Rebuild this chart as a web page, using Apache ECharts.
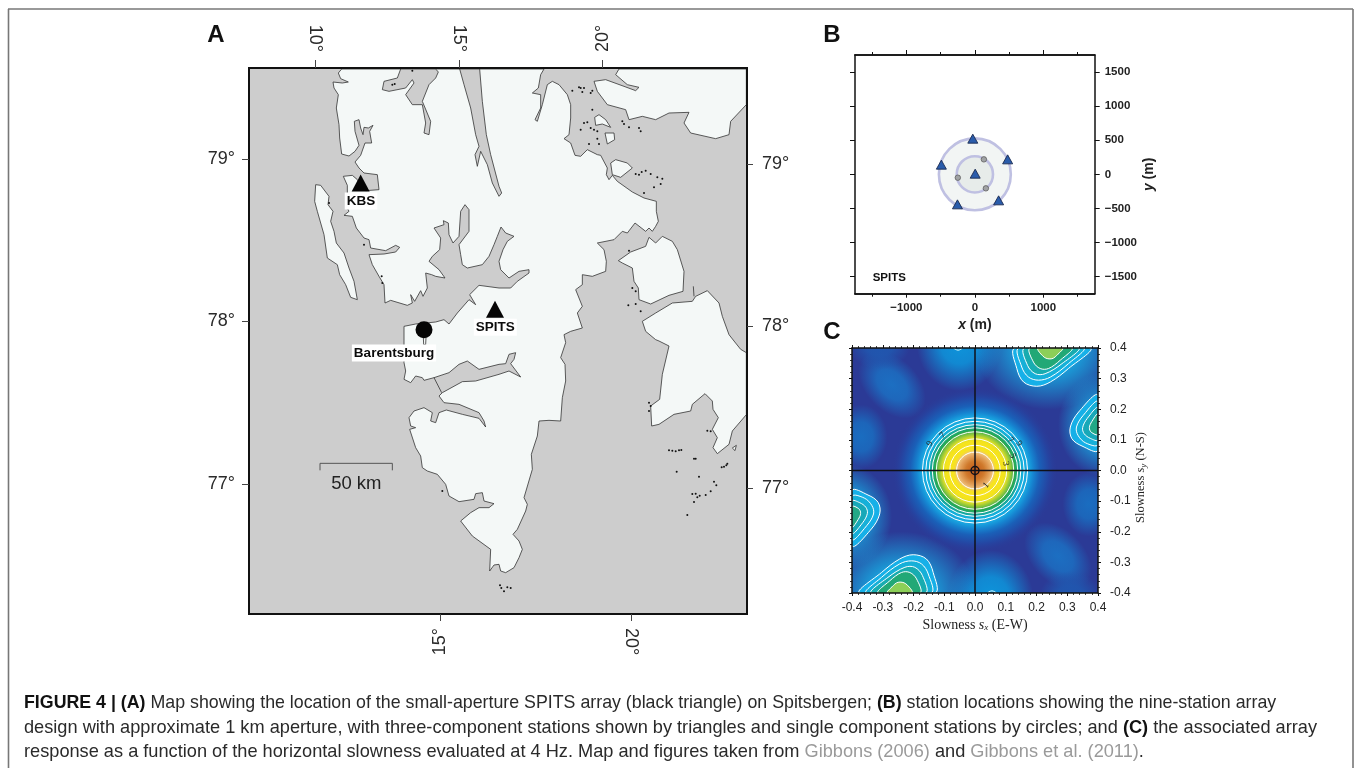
<!DOCTYPE html>
<html><head><meta charset="utf-8"><style>html,body{margin:0;padding:0;background:#fff}#c{width:1354px;height:768px}</style>
<script src="https://cdn.jsdelivr.net/npm/echarts@6/dist/echarts.min.js"></script></head>
<body><div id="c"></div><script>
// ---------- Panel A: map outlines, traced in map units (x 0-1494, y 0-1638 from top-left) ----------
const mainland=[[278,3],[268,15],[275,32],[298,42],[280,45],[252,42],[255,60],[268,80],[262,120],[270,170],[272,210],[278,258],[300,264],[318,250],[330,232],[318,190],[316,160],[330,155],[335,180],[342,200],[345,178],[358,180],[372,172],[362,190],[368,225],[348,225],[335,262],[318,282],[330,300],[345,315],[385,320],[390,365],[350,368],[325,335],[310,322],[283,325],[295,352],[295,420],[300,430],[285,442],[310,445],[322,480],[345,510],[360,515],[365,540],[410,548],[440,532],[452,538],[440,552],[405,558],[360,560],[370,590],[390,625],[405,650],[408,705],[425,697],[475,712],[490,705],[485,680],[497,700],[515,668],[522,685],[535,660],[530,615],[548,620],[560,625],[588,630],[570,605],[540,580],[550,565],[572,545],[575,510],[555,480],[585,470],[583,458],[598,465],[600,500],[612,525],[630,505],[635,430],[648,410],[660,425],[660,490],[630,530],[635,560],[640,590],[655,600],[700,590],[720,565],[735,530],[745,505],[756,477],[770,495],[795,505],[775,520],[762,545],[750,580],[755,605],[780,630],[810,610],[840,605],[840,615],[805,640],[785,660],[750,660],[690,652],[662,680],[680,710],[660,695],[625,735],[600,768],[585,755],[560,762],[500,768],[465,775],[465,884],[470,909],[465,934],[485,944],[500,924],[520,929],[525,937],[555,929],[600,914],[630,889],[655,879],[690,904],[750,889],[770,887],[780,859],[800,854],[795,874],[785,887],[815,927],[780,909],[750,919],[680,939],[640,941],[580,974],[570,984],[585,1004],[630,1009],[690,1034],[705,1059],[710,1077],[690,1051],[640,1039],[592,1026],[570,1034],[560,1064],[545,1059],[550,1034],[525,1019],[495,1029],[480,1049],[485,1074],[500,1079],[482,1084],[500,1139],[515,1164],[520,1199],[535,1209],[565,1219],[590,1249],[600,1284],[630,1301],[675,1294],[680,1277],[700,1274],[705,1299],[735,1307],[720,1319],[690,1319],[665,1334],[635,1359],[670,1404],[725,1444],[722,1509],[735,1491],[750,1489],[755,1509],[770,1514],[795,1499],[810,1469],[820,1444],[810,1419],[792,1399],[805,1384],[830,1329],[835,1309],[825,1289],[850,1204],[847,1159],[865,1104],[870,1059],[900,1057],[935,1059],[940,989],[950,939],[948,889],[935,869],[950,824],[945,800],[965,790],[1000,780],[985,735],[1000,715],[980,665],[1000,650],[1000,620],[1030,625],[1070,610],[1072,580],[1065,545],[1045,525],[1095,515],[1120,490],[1135,495],[1158,465],[1190,490],[1200,480],[1210,490],[1220,475],[1228,460],[1222,430],[1222,400],[1185,390],[1150,372],[1105,340],[1090,322],[1080,335],[1072,320],[1075,300],[1055,262],[1045,260],[1015,245],[995,265],[978,262],[965,225],[945,212],[960,200],[965,150],[965,110],[955,80],[930,50],[910,40],[895,50],[880,110],[865,160],[858,155],[875,120],[875,80],[850,75],[868,60],[875,20],[885,3]];
const northLand=[[1110,3],[1100,20],[1135,50],[1170,58],[1160,68],[1125,55],[1070,35],[1035,40],[1045,70],[1075,110],[1130,125],[1140,155],[1180,145],[1220,155],[1260,135],[1320,133],[1305,165],[1325,195],[1400,212],[1440,200],[1445,160],[1492,110],[1492,3]];
const barentsoya=[[1108,578],[1145,552],[1190,535],[1200,508],[1220,525],[1240,505],[1270,520],[1285,545],[1305,610],[1302,670],[1260,682],[1205,708],[1170,695],[1168,660],[1155,640],[1150,600],[1120,585]];
const edgeoya=[[1180,760],[1220,735],[1270,705],[1330,700],[1340,685],[1375,668],[1410,705],[1420,745],[1440,800],[1455,819],[1475,844],[1492,854],[1492,1040],[1450,1089],[1440,1129],[1405,1157],[1392,1139],[1405,1109],[1390,1084],[1408,1049],[1392,1024],[1390,999],[1368,977],[1330,1009],[1325,1029],[1275,1039],[1230,1069],[1208,1074],[1205,1014],[1232,994],[1240,919],[1260,834],[1230,819],[1220,815],[1190,790]];
const forland=[[200,350],[215,352],[240,385],[237,410],[252,430],[245,460],[255,490],[262,525],[285,555],[300,600],[315,640],[325,695],[305,688],[290,650],[272,620],[265,590],[235,570],[225,500],[205,430],[197,400]];
const smallIslands=[[[1037,148],[1050,140],[1070,155],[1085,178],[1060,168],[1040,172]],[[1085,285],[1100,275],[1135,285],[1150,300],[1115,328],[1090,320]],[[1068,195],[1095,195],[1097,215],[1075,228]],[[1450,1140],[1462,1132],[1458,1148]]];
const fjordWest=[[455,3],[445,30],[405,40],[400,65],[420,70],[470,60],[490,35],[495,45],[470,80],[490,110],[520,110],[530,165],[525,195],[540,200],[545,160],[520,100],[540,50],[560,30],[568,12],[560,3]];
const fjordEast=[[632,3],[645,50],[665,120],[680,200],[690,235],[678,260],[685,295],[695,250],[715,290],[730,345],[750,385],[758,375],[750,355],[725,260],[712,200],[700,100],[692,3]];
const coastStrokes=[[[1333,655],[1335,685]],[[523,808],[524,830],[530,830],[531,808]],[[555,929],[578,974]]];
const specks=[[430,50],[437,48],[490,8],[240,405],[345,530],[398,625],[400,645],[580,1269],[1000,72],[995,60],[990,58],[1005,60],[1025,75],[1030,68],[970,68],[1030,125],[1005,165],[1015,163],[1025,180],[1035,185],[1045,190],[995,185],[1020,228],[1050,228],[1045,212],[1120,160],[1125,168],[1140,178],[1170,180],[1175,190],[1160,318],[1170,320],[1178,312],[1190,308],[1205,318],[1225,328],[1240,332],[1235,348],[1215,358],[1185,375],[1140,548],[1150,660],[1160,670],[1138,712],[1160,708],[1175,730],[1200,1004],[1205,1014],[1200,1029],[1260,1147],[1270,1148],[1280,1150],[1290,1147],[1297,1146],[1335,1172],[1340,1172],[1283,1211],[1350,1226],[1418,1198],[1425,1196],[1432,1192],[1435,1187],[1395,1241],[1402,1252],[1330,1278],[1340,1277],[1345,1288],[1335,1302],[1352,1283],[1370,1281],[1385,1270],[1315,1341],[1375,1088],[1385,1090],[753,1552],[757,1560],[765,1570],[775,1558],[785,1560]];
const stationPoints=[[335,345],[738,724]];
const townPoints=[[525,785]];
const mapLabels=[{name:'KBS',value:[336,399]},{name:'SPITS',value:[739,778]},{name:'Barentsburg',value:[435,855]}];
const scaleBar=[[213,1207],[213,1186],[430,1186],[430,1207]];
const scaleLabel=[{name:'50 km',value:[322,1249]}];
const lonTop=[10,15,20], lonBottom=[15,20], latTicks=[77,78,79];
// ---------- Panel B: station layout (metres) ----------
const ringRadii=[525,265];
const threeComp=[[-30,523],[479,220],[-489,142],[-254,-440],[347,-381],[5,10]];
const oneComp=[[132,220],[-249,-49],[161,-205]];
const bTicks=[-1500,-1000,-500,0,500,1000,1500];
const bMajor=[-1000,0,1000];
// ---------- Panel C: array response (slowness s/km) ----------
const peakProfile=[[0,'#bd5518'],[.03,'#d07a2c'],[.048,'#e3a25c'],[.058,'#eec07a'],[.07,'#f7e41e'],[.095,'#f5e31c'],[.107,'#d6dc2a'],[.12,'#7cc040'],[.13,'#28a850'],[.145,'#14a8a8'],[.155,'#14b0e0'],[.175,'#18a4e0'],[.19,'#1684d0'],[.21,'#1a60b8'],[.24,'#2545a2'],[.27,'rgba(43,58,150,0)']];
const peakContours=[.060,.082,.103,.126,.139,.149,.160,.171];
// sx, sy, rx, ry, angle, colour (each is also present at -sx,-sy)
const softLobes=[[-.27,.28,.13,.085,-45,'#1c6fc2'],[-.37,.11,.085,.105,0,'#1a6dc0'],[-.05,.42,.14,.16,0,'#0d96dc'],[-.31,.41,.10,.08,0,'#2058b0'],[.24,.40,.24,.20,0,'#18a8e0'],[.42,.15,.15,.17,0,'#18a8e0']];
const topLobe=[[[.130,.40],[.136,.333],[.158,.289],[.201,.275],[.245,.289],[.304,.333],[.375,.40]],[[.143,.40],[.152,.338],[.174,.305],[.207,.295],[.245,.305],[.304,.349],[.353,.40]],[[.161,.40],[.171,.343],[.196,.316],[.228,.316],[.283,.349],[.337,.40]],[[.179,.40],[.19,.354],[.212,.333],[.239,.333],[.277,.36],[.315,.40]],[[.205,.40],[.225,.37],[.25,.365],[.27,.38],[.285,.40]]];
const topLobeFill=['#16b0e8','#16b0d8','#18acb0','#22a876','#8ccf58'];
const sideLobe=[[[.40,.246],[.337,.191],[.31,.142],[.315,.104],[.348,.08],[.40,.066]],[[.40,.225],[.352,.18],[.33,.142],[.335,.115],[.36,.09],[.40,.085]],[[.40,.205],[.365,.17],[.35,.14],[.355,.12],[.375,.105],[.40,.10]],[[.40,.185],[.38,.16],[.372,.14],[.378,.125],[.40,.118]]];
const sideLobeFill=['#16b0e8','#16b0d8','#18a8b8','#22a886'];
const tinyLobe=[[.04,-.40],[.055,-.393],[.07,-.40]];
const contourLabels=[{name:'9',value:[-.147,.088],rot:60},{name:'7',value:[-.105,.115],rot:45},{name:'7',value:[.116,.099],rot:-45},{name:'9',value:[.143,.088],rot:-55},{name:'5',value:[.122,.048],rot:-70},{name:'3',value:[.10,.023],rot:-80},{name:'1',value:[.036,-.048],rot:50}];
const crossLines=[[[-.4,0],[.4,0]],[[0,-.4],[0,.4]]];
const originMark=[.013];
// ---------- Caption ----------
const captionLines=[
'{b|FIGURE 4 | (A)} Map showing the location of the small-aperture SPITS array (black triangle) on Spitsbergen; {b|(B)} station locations showing the nine-station array',
'design with approximate 1 km aperture, with three-component stations shown by triangles and single component stations by circles; and {b|(C)} the associated array',
'response as a function of the horizontal slowness evaluated at 4 Hz. Map and figures taken from {g|Gibbons (2006)} and {g|Gibbons et al. (2011)}.'];
const captionSizes=[17.8,18.2,18.2];

const SANS='"Liberation Sans",Arial,sans-serif', SERIF='"Liberation Serif",serif';
const mirror=s=>s.map(p=>[-p[0],-p[1]]);

function shapes(name,list,xi,yi,style,z,smooth,closed){
  return {type:'custom',name,coordinateSystem:'cartesian2d',xAxisIndex:xi,yAxisIndex:yi,z,silent:true,clip:true,
    data:list.map((s,i)=>[s[0][0],s[0][1],i]),
    renderItem:(p,api)=>{const i=api.value(2);const pts=list[i].map(q=>api.coord(q));
      const st=typeof style==='function'?style(i):style;
      return {type:closed?'polygon':'polyline',shape:{points:pts,smooth:smooth||0},style:st};}};
}
const landStyle={fill:'#f4f8f7',stroke:'#333',lineWidth:.8};
const seaStyle={fill:'#cdcdcd',stroke:'#333',lineWidth:.8};

const grids=[
 {left:249,top:68,width:498,height:546,show:true,backgroundColor:'#cdcdcd',borderWidth:0},
 {left:249,top:68,width:498,height:546},
 {left:249,top:68,width:498,height:546},
 {left:855,top:55,width:239.7,height:238.7},
 {left:855,top:55,width:239.7,height:238.7},
 {left:852,top:348,width:246,height:245,show:true,backgroundColor:'#2b3a96',borderWidth:0}];
const deg=v=>v+'°';
const mapAxis=(pos,grid,min,max,vals,rot,margin,len)=>({type:'value',gridIndex:grid,position:pos,min,max,z:10,scale:true,splitLine:{show:false},
  axisLine:{show:true,onZero:false,lineStyle:{color:'#111',width:2}},
  axisTick:{show:vals.length>0,customValues:vals,length:len,lineStyle:{color:'#444',width:1}},
  axisLabel:{show:vals.length>0,customValues:vals,formatter:deg,rotate:rot,margin,fontFamily:SANS,fontSize:18,color:'#2a2a2a'}});
const hidden=(grid,min,max,inv)=>({type:'value',gridIndex:grid,min,max,inverse:!!inv,show:false});
const bAxis=(pos,grid,vals,len,labels,extra)=>Object.assign({type:'value',gridIndex:grid,position:pos,min:-1750,max:1750,z:10,splitLine:{show:false},
  axisLine:{show:true,onZero:false,lineStyle:{color:'#111',width:1.5}},
  axisTick:{show:true,customValues:vals,length:len,lineStyle:{color:'#111',width:1}},
  axisLabel:{show:!!labels,customValues:labels||[],margin:labels?(pos==='right'?10:8):0,fontFamily:SANS,fontWeight:'bold',fontSize:11.5,color:'#222',formatter:v=>String(v).replace('-','\u2212')}},extra||{});
const cAxis=(pos,labels,margin,extra)=>Object.assign({type:'value',gridIndex:5,position:pos,min:-.4,max:.4,interval:.1,z:10,splitLine:{show:false},
  axisLine:{show:true,onZero:false,lineStyle:{color:'#111',width:1.5}},
  axisTick:{show:true,length:3,lineStyle:{color:'#111',width:1}},
  minorTick:{show:true,splitNumber:5,length:2,lineStyle:{color:'#111',width:.8}},
  axisLabel:{show:labels,margin,fontFamily:SANS,fontSize:12,color:'#222',formatter:v=>v.toFixed(1)}},extra||{});

const xAxes=[
 hidden(0,0,1494),
 mapAxis('top',1,7.69,25.03,[10,15],90,16,8),
 mapAxis('bottom',1,10.016,23.025,[15],90,14,7),
 mapAxis('top',2,7.69,25.03,[20],-90,16,8),
 mapAxis('bottom',2,10.016,23.025,[20],-90,14,7),
 bAxis('bottom',3,bTicks,3,bMajor,{name:'{i|x} (m)',nameLocation:'middle',nameGap:24,nameTextStyle:{fontFamily:SANS,fontWeight:'bold',fontSize:14,color:'#222',rich:{i:{fontFamily:SANS,fontStyle:'italic',fontWeight:'bold',fontSize:14,color:'#222'}}}}),
 bAxis('top',3,bTicks,3),
 bAxis('bottom',4,bMajor,4),
 bAxis('top',4,bMajor,5),
 cAxis('bottom',true,9,{name:'Slowness {i|s}{s|x} (E-W)',nameLocation:'middle',nameGap:25,nameTextStyle:{fontFamily:SERIF,fontSize:14,color:'#222',rich:{i:{fontFamily:SERIF,fontStyle:'italic',fontSize:14,color:'#222'},s:{fontFamily:SERIF,fontStyle:'italic',fontSize:9,color:'#222',verticalAlign:'bottom',padding:[5,0,0,0]}}}}),
 cAxis('top',false,0)];
const yAxes=[
 hidden(0,0,1638,true),
 mapAxis('left',1,76.199,79.561,latTicks,0,14,7),
 mapAxis('right',1,76.222,79.593,latTicks,0,15,6),
 hidden(2,0,1),
 bAxis('left',3,bTicks,5),
 bAxis('right',3,bTicks,5,bTicks,{name:'{i|y} (m)',nameLocation:'middle',nameRotate:90,nameGap:47,nameTextStyle:{fontFamily:SANS,fontWeight:'bold',fontSize:14,color:'#222',rich:{i:{fontFamily:SANS,fontStyle:'italic',fontWeight:'bold',fontSize:14,color:'#222'}}}}),
 hidden(4,-1750,1750),
 cAxis('left',false,0),
 cAxis('right',true,12,{name:'Slowness {i|s}{s|y} (N-S)',nameLocation:'middle',nameRotate:90,nameGap:36,nameTextStyle:{fontFamily:SERIF,fontSize:12.5,color:'#222',padding:[0,14,0,0],rich:{i:{fontFamily:SERIF,fontStyle:'italic',fontSize:12.5,color:'#222'},s:{fontFamily:SERIF,fontStyle:'italic',fontSize:9,color:'#222',verticalAlign:'bottom',padding:[5,0,0,0]}}}})];

const cRect=api=>{const c=api.coord([-.4,.4]),d=api.coord([.4,-.4]);return {x:c[0],y:c[1],width:d[0]-c[0],height:d[1]-c[1]};};
const allSoft=softLobes.concat(softLobes.map(l=>[-l[0],-l[1],l[2],l[3],l[4],l[5]]));
const hexA=(h,a)=>{const n=parseInt(h.slice(1),16);return `rgba(${n>>16},${(n>>8)&255},${n&255},${a})`;};

const series=[
 // Panel A
 shapes('land',[mainland,northLand,barentsoya,edgeoya,forland],0,0,landStyle,2,0,true),
 shapes('fjords',[fjordWest,fjordEast],0,0,seaStyle,3,0,true),
 shapes('islands',smallIslands,0,0,landStyle,4,0,true),
 shapes('coast strokes',coastStrokes,0,0,{fill:'none',stroke:'#333',lineWidth:.8},4,0,false),
 {type:'scatter',name:'islets',xAxisIndex:0,yAxisIndex:0,symbol:'circle',symbolSize:2,itemStyle:{color:'#111',opacity:1},data:specks,z:4,silent:true},
 {type:'scatter',name:'stations',xAxisIndex:0,yAxisIndex:0,symbol:'triangle',symbolSize:[18,17],itemStyle:{color:'#050505',opacity:1},data:stationPoints,z:6,silent:true},
 {type:'scatter',name:'Barentsburg',xAxisIndex:0,yAxisIndex:0,symbol:'circle',symbolSize:17,itemStyle:{color:'#050505',opacity:1},data:townPoints,z:6,silent:true},
 {type:'scatter',name:'map labels',xAxisIndex:0,yAxisIndex:0,symbolSize:0,data:mapLabels,z:7,silent:true,itemStyle:{opacity:1},
  label:{show:true,opacity:1,position:'inside',formatter:'{b}',fontFamily:SANS,fontWeight:'bold',fontSize:13.5,color:'#0c0c0c',backgroundColor:'#fff',padding:[2,2,1,2]}},
 shapes('scale bar',[scaleBar],0,0,{fill:'none',stroke:'#555',lineWidth:1},5,0,false),
 {type:'scatter',name:'scale label',xAxisIndex:0,yAxisIndex:0,symbolSize:0,data:scaleLabel,z:7,silent:true,itemStyle:{opacity:1},
  label:{show:true,opacity:1,position:'inside',formatter:'{b}',fontFamily:SANS,fontSize:18.5,color:'#222'}},
 // Panel B
 {type:'custom',name:'rings',coordinateSystem:'cartesian2d',xAxisIndex:5,yAxisIndex:4,z:2,silent:true,
  data:ringRadii.map((r,i)=>[0,0,r,i]),
  renderItem:(p,api)=>{const c=api.coord([0,0]);const r=api.size([api.value(2),0])[0];
   return {type:'circle',shape:{cx:c[0],cy:c[1],r},style:{fill:api.value(3)?'#e7ecea':'#f2f5f4',stroke:'#bfc0e2',lineWidth:2.6}};}},
 {type:'scatter',name:'three-component',xAxisIndex:5,yAxisIndex:4,symbol:'triangle',symbolSize:[10,9],itemStyle:{color:'#2a5cab',borderColor:'#1b2a50',borderWidth:.9,opacity:1},data:threeComp,z:4,silent:true},
 {type:'scatter',name:'single-component',xAxisIndex:5,yAxisIndex:4,symbol:'circle',symbolSize:5.5,itemStyle:{color:'#a0a2a4',borderColor:'#555',borderWidth:.7,opacity:1},data:oneComp,z:4,silent:true},
 {type:'scatter',name:'array name',xAxisIndex:5,yAxisIndex:4,symbolSize:0,data:[{name:'SPITS',value:[-1250,-1510]}],z:4,silent:true,itemStyle:{opacity:1},
  label:{show:true,opacity:1,position:'inside',formatter:'{b}',fontFamily:SANS,fontWeight:'bold',fontSize:11.5,color:'#111'}},
 // Panel C
 {type:'custom',name:'soft lobes',coordinateSystem:'cartesian2d',xAxisIndex:9,yAxisIndex:7,z:2,silent:true,clip:true,
  data:allSoft.map((l,i)=>[Math.max(-.4,Math.min(.4,l[0])),Math.max(-.4,Math.min(.4,l[1])),i]),
  renderItem:(p,api)=>{const l=allSoft[api.value(2)];const c=api.coord([l[0],l[1]]);const u=api.size([1,0])[0];const rect=cRect(api);
   return {type:'group',clipPath:{type:'rect',shape:rect},children:[{type:'circle',x:c[0],y:c[1],scaleX:l[2]*u/10,scaleY:l[3]*u/10,rotation:l[4]*Math.PI/180,shape:{cx:0,cy:0,r:10},
     style:{fill:new echarts.graphic.RadialGradient(.5,.5,.5,[{offset:0,color:hexA(l[5],1)},{offset:.45,color:hexA(l[5],.85)},{offset:1,color:hexA(l[5],0)}])}}]};}},
 shapes('top lobe fill',topLobe.concat(topLobe.map(mirror)),9,7,i=>({fill:topLobeFill[i%5],stroke:'#fff',lineWidth:1}),3,.35,true),
 shapes('side lobe fill',sideLobe.concat(sideLobe.map(mirror)),9,7,i=>({fill:sideLobeFill[i%4],stroke:'#fff',lineWidth:1}),3,.35,true),
 shapes('tiny contours',[tinyLobe,mirror(tinyLobe)],9,7,{fill:'none',stroke:'#dff',lineWidth:1},3,.4,false),
 {type:'custom',name:'main peak',coordinateSystem:'cartesian2d',xAxisIndex:9,yAxisIndex:7,z:4,silent:true,
  data:[[0,0]],
  renderItem:(p,api)=>{const c=api.coord([0,0]);const R=.27;const r=api.size([R,0])[0];
   return {type:'circle',shape:{cx:c[0],cy:c[1],r},style:{fill:new echarts.graphic.RadialGradient(.5,.5,.5,peakProfile.map(s=>({offset:s[0]/R,color:s[1]})))}};}},
 {type:'custom',name:'peak contours',coordinateSystem:'cartesian2d',xAxisIndex:9,yAxisIndex:7,z:5,silent:true,
  data:peakContours.map(r=>[0,0,r]),
  renderItem:(p,api)=>{const c=api.coord([0,0]);const r=api.size([api.value(2),0])[0];
   return {type:'circle',shape:{cx:c[0],cy:c[1],r},style:{fill:'none',stroke:'#fff',lineWidth:1}};}},
 {type:'scatter',name:'contour labels',xAxisIndex:9,yAxisIndex:7,symbolSize:0,z:6,silent:true,itemStyle:{opacity:1},
  data:contourLabels.map(d=>({name:d.name,value:d.value,label:{rotate:d.rot}})),
  label:{show:true,opacity:1,position:'inside',formatter:'{b}',fontFamily:SERIF,fontSize:9,color:'#222'}},
 shapes('cross',crossLines,9,7,{fill:'none',stroke:'#101018',lineWidth:1.5},7,0,false),
 {type:'custom',name:'origin',coordinateSystem:'cartesian2d',xAxisIndex:9,yAxisIndex:7,z:8,silent:true,
  data:originMark.map(r=>[0,0,r]),
  renderItem:(p,api)=>{const c=api.coord([0,0]);const r=api.size([api.value(2),0])[0];
   return {type:'circle',shape:{cx:c[0],cy:c[1],r},style:{fill:'none',stroke:'#101018',lineWidth:1.4}};}}
];

const frame=[[[8,9],[1353,9]],[[8.5,9],[8.5,768]],[[1353,9],[1353,768]]];
const graphics=[];
frame.forEach(f=>graphics.push({type:'line',silent:true,shape:{x1:f[0][0],y1:f[0][1],x2:f[1][0],y2:f[1][1]},style:{stroke:'#777',lineWidth:1.6}}));
[['A',216,35],['B',832,35],['C',832,332]].forEach(t=>graphics.push({type:'text',silent:true,style:{text:t[0],x:t[1],y:t[2],align:'center',verticalAlign:'middle',font:'bold 24px '+SANS,fill:'#111'}}));
captionLines.forEach((t,i)=>graphics.push({type:'text',silent:true,style:{text:t,x:24,y:703+i*24.7,verticalAlign:'middle',fontFamily:'Liberation Sans',fontSize:captionSizes[i],fill:'#2a2a2a',
  rich:{b:{fontFamily:'Liberation Sans',fontSize:captionSizes[i],fontWeight:'bold',fill:'#111'},g:{fontFamily:'Liberation Sans',fontSize:captionSizes[i],fill:'#9a9a9a'}}}}));

const chart=echarts.init(document.getElementById('c'),null,{renderer:'canvas',width:1354,height:768});
chart.setOption({animation:false,backgroundColor:'#fff',tooltip:{show:false},grid:grids,xAxis:xAxes,yAxis:yAxes,series,graphic:graphics});
</script></body></html>
